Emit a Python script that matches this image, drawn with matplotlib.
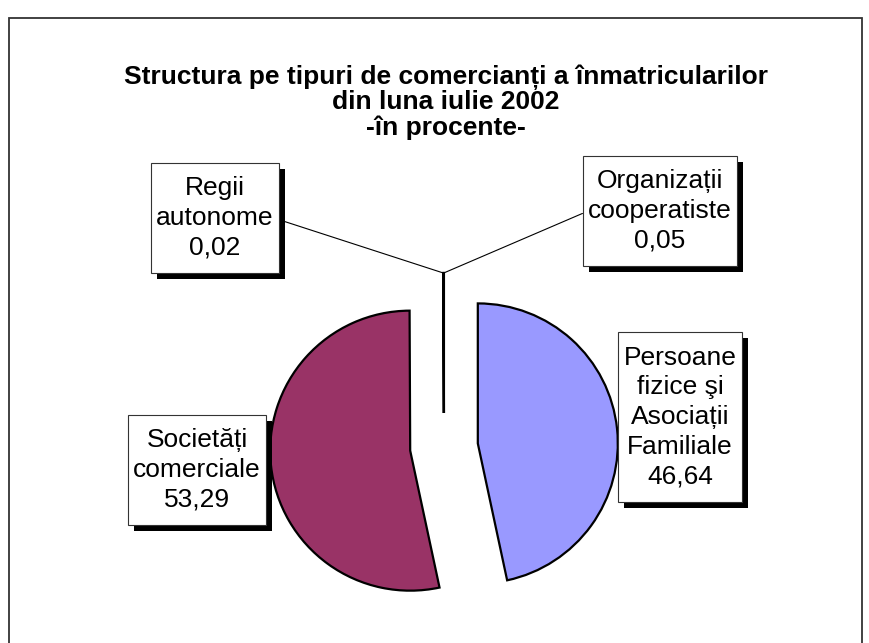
import matplotlib
matplotlib.use("Agg")
import numpy as np
import matplotlib.pyplot as plt
import matplotlib.patheffects as pe
from matplotlib.patches import Rectangle

plt.rcParams['font.family'] = ['Liberation Sans', 'DejaVu Sans']

# data
categories = ['Persoane\nfizice şi\nAsociații\nFamiliale', 'Societăți\ncomerciale',
              'Regii\nautonome', 'Organizații\ncooperatiste']
values = [46.64, 53.29, 0.02, 0.05]
value_labels = ['46,64', '53,29', '0,02', '0,05']
colors = ['#9999FF', '#993366', '#FFFFCC', '#CCFFFF']

title = 'Structura pe tipuri de comercianți a înmatricularilor\ndin luna iulie 2002\n-în procente-'

W, H = 870, 643
fig = plt.figure(figsize=(W / 100, H / 100), dpi=100)
ax = fig.add_axes([0, 0, 1, 1])

# explode is in data units here (axes span the figure in pixels)
wedges, _ = ax.pie(values, colors=colors, startangle=90, counterclock=False,
                   center=(444, 196), radius=140, explode=[34] * 4,
                   wedgeprops=dict(edgecolor='black', linewidth=1.6))
ax.set_xlim(0, W)
ax.set_ylim(0, H)
ax.axis('off')

# outer frame of the chart area
ax.add_patch(Rectangle((9, -10), 853, 635, fill=False, ec='#333333', lw=1.3, clip_on=False))

ax.text(446, H - 102, title, ha='center', va='center', fontsize=19,
        fontweight='bold', linespacing=1.04)

shadow = [pe.SimplePatchShadow(offset=(4.3, -4.3), shadow_rgbFace='black', alpha=1.0), pe.Normal()]


def tip(w):
    th = np.deg2rad((w.theta1 + w.theta2) / 2)
    return (w.center[0] + w.r * np.cos(th), w.center[1] + w.r * np.sin(th))


# label positions (box centres) and where the leader line leaves the box
label_pos = [(680, H - 417), (197, H - 470), (215, H - 218), (660, H - 211)]
rel = [None, None, (1, 0.5), (0, 0.5)]

for i, w in enumerate(wedges):
    txt = categories[i] + '\n' + value_labels[i]
    kw = {}
    if rel[i] is not None:
        kw['arrowprops'] = dict(arrowstyle='-', color='black', lw=0.8,
                                relpos=rel[i], shrinkA=0, shrinkB=0)
    t = ax.annotate(txt, xy=tip(w), xytext=label_pos[i], ha='center', va='center',
                    fontsize=19, linespacing=1.3,
                    bbox=dict(boxstyle='square,pad=0.2', mutation_aspect=2.6,
                              fc='white', ec='#333333', lw=0.8),
                    **kw)
    t.get_bbox_patch().set_path_effects(shadow)

fig.savefig('out.png', dpi=100)
